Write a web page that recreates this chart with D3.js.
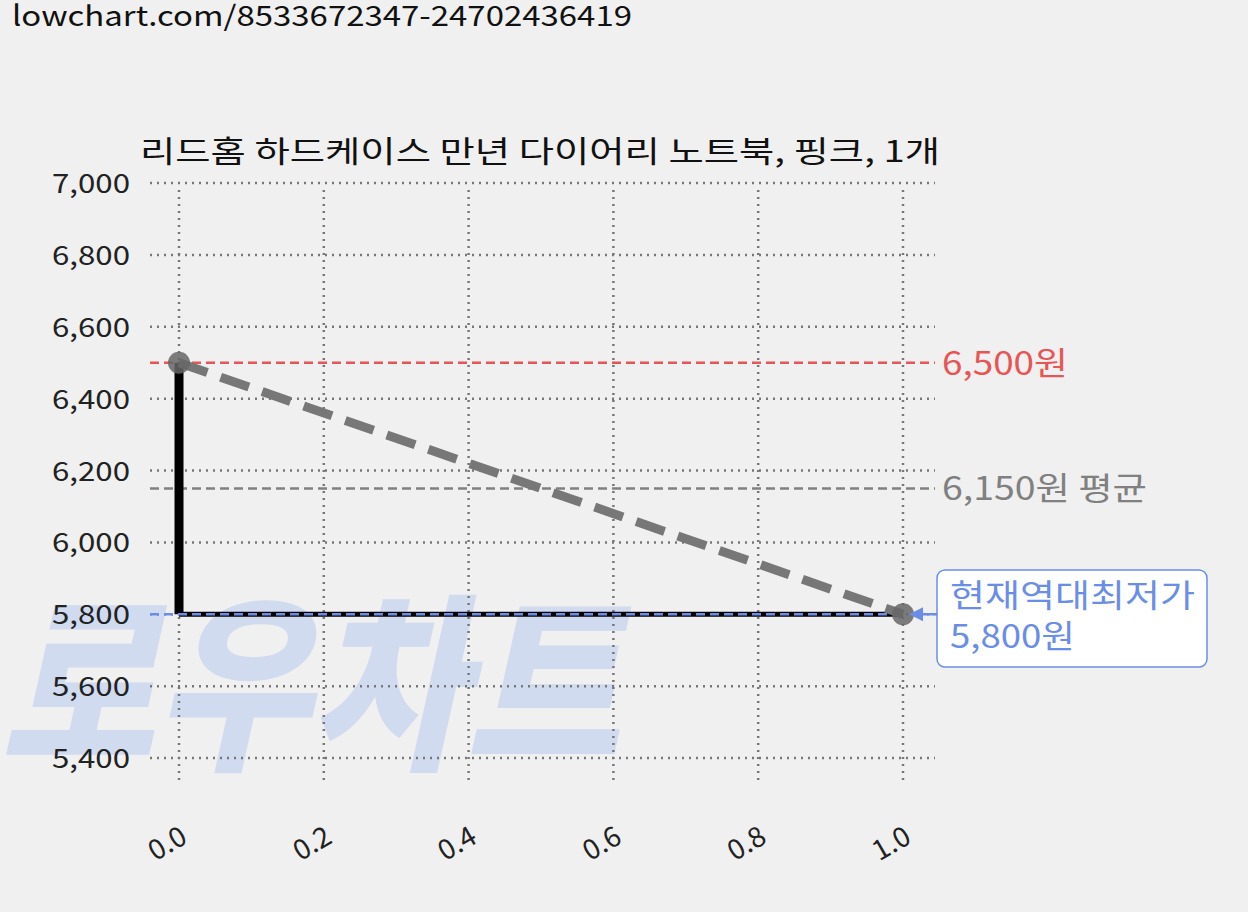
<!DOCTYPE html><html><head><meta charset="utf-8"><script src="https://d3js.org/d3.v7.min.js"></script>
<style>body{margin:0;background:#f0f0f0}svg{font-family:"Noto Sans CJK KR",Roboto,sans-serif}</style></head><body>
<svg id="c" width="1248" height="912"></svg>
<script>
const xVals=[0,1];
const prices=[6500,5800];
const yTicks=[5400,5600,5800,6000,6200,6400,6600,6800,7000];
const xTicks=[0,0.2,0.4,0.6,0.8,1.0];
const maxPrice=6500, avgPrice=6150, minPrice=5800;
const title="리드홈 하드케이스 만년 다이어리 노트북, 핑크, 1개";
const url="lowchart.com/8533672347-24702436419";

const svg=d3.select("#c");
const x=d3.scaleLinear().domain([0,1]).range([179,903]);
const y=d3.scaleLinear().domain([5400,7000]).range([758,183]);
function T(px,py,size,txt,len,fill){const t=svg.append("text").attr("x",px).attr("y",py).attr("font-size",size).attr("fill",fill||"#111").text(txt);if(len)t.attr("textLength",len).attr("lengthAdjust","spacingAndGlyphs");return t;}
svg.append("rect").attr("width",1248).attr("height",912).attr("fill","#f0f0f0");
// watermark
svg.append("text").attr("x",0).attr("y",755).attr("font-size",190).attr("font-weight",900)
 .attr("font-style","italic").attr("fill","#c5d3f0").attr("opacity",0.7).attr("textLength",620).attr("lengthAdjust","spacingAndGlyphs").text("로우차트");
T(12,26,28,url,620);
T(140,162,30,title,800);
const g=svg.append("g").attr("stroke","#777").attr("stroke-width",2.5).attr("stroke-dasharray","2,5");
yTicks.forEach(t=>g.append("line").attr("x1",150).attr("x2",935).attr("y1",y(t)).attr("y2",y(t)));
xTicks.forEach(t=>g.append("line").attr("x1",x(t)).attr("x2",x(t)).attr("y1",190).attr("y2",785));
yTicks.forEach(t=>T(52,y(t)+10,27,d3.format(",")(t),78,"#222"));
xTicks.forEach(t=>svg.append("text").attr("transform",`translate(${x(t)+10},${842}) rotate(-30)`).attr("text-anchor","end").attr("font-size",28).attr("fill","#222").text(t.toFixed(1)));
svg.append("line").attr("x1",150).attr("x2",935).attr("y1",y(maxPrice)).attr("y2",y(maxPrice)).attr("stroke","#e85555").attr("stroke-width",2.5).attr("stroke-dasharray","9,5");
svg.append("line").attr("x1",150).attr("x2",935).attr("y1",y(avgPrice)).attr("y2",y(avgPrice)).attr("stroke","#808080").attr("stroke-width",2.5).attr("stroke-dasharray","9,5");
T(942,y(maxPrice)+12,32,"6,500원",126,"#e85555");
T(942,y(avgPrice)+12,32,"6,150원 평균",205,"#808080");
svg.append("path").attr("d",`M${x(0)},${y(prices[0])}V${y(prices[1])}`).attr("stroke","#000").attr("stroke-width",9).attr("fill","none");
svg.append("path").attr("d",`M${x(0)},${y(prices[1])}H${x(1)}`).attr("stroke","#000").attr("stroke-width",5).attr("fill","none");
svg.append("line").attr("x1",150).attr("x2",x(1)).attr("y1",y(minPrice)).attr("y2",y(minPrice)).attr("stroke","#6a8ee8").attr("stroke-width",2.5).attr("stroke-dasharray","9,5");
svg.append("path").attr("d",d3.line().x((d,i)=>x(xVals[i])).y(d=>y(d))(prices)).attr("stroke","#777").attr("stroke-width",9).attr("stroke-dasharray","30,14").attr("fill","none");
svg.selectAll("circle.p").data(prices).join("circle").attr("cx",(d,i)=>x(xVals[i])).attr("cy",d=>y(d)).attr("r",11).attr("fill","#666").attr("opacity",0.85);
svg.append("path").attr("d",`M${x(1)+6},${y(minPrice)}l14,-7v14z`).attr("fill","#6a8ee8");
svg.append("line").attr("x1",x(1)+18).attr("x2",937).attr("y1",y(minPrice)).attr("y2",y(minPrice)).attr("stroke","#6a8ee8").attr("stroke-width",2.5);
svg.append("rect").attr("x",937).attr("y",570).attr("width",270).attr("height",97).attr("rx",8).attr("fill","#fff").attr("stroke","#6a8ee8").attr("stroke-width",1.5);
T(950,607,32,"현재역대최저가",245,"#6a8ee8");
T(950,648,32,"5,800원",125,"#6a8ee8");
</script></body></html>
